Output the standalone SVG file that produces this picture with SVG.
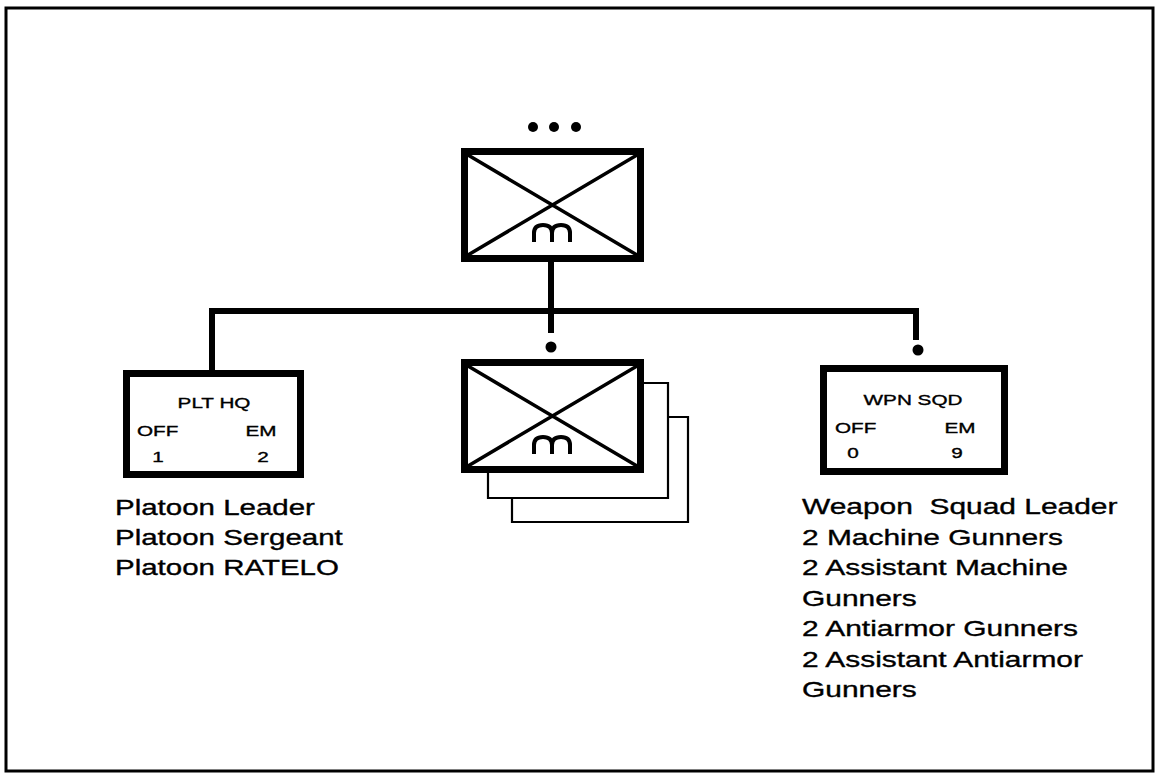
<svg xmlns="http://www.w3.org/2000/svg" width="1156" height="775" viewBox="0 0 1156 775">
<style>
.t{font-family:"Liberation Sans",Arial,sans-serif;fill:#000;stroke:#000;stroke-width:0.35}
.sm{font-size:15px}
.lg{font-size:22px}
.box{fill:#fff;stroke:#000;stroke-width:7}
.x{stroke:#000;stroke-width:3.5;fill:none}
.ab{stroke:#000;stroke-width:4;fill:none;stroke-linecap:butt}
.sh{fill:#fff;stroke:#000;stroke-width:2.2}
.con{stroke:#000;stroke-width:6;fill:none;stroke-linejoin:miter}
</style>
<rect width="1156" height="775" fill="#fff"/>
<rect x="6" y="8" width="1147" height="763" fill="none" stroke="#000" stroke-width="3"/>

<g id="connectors">
  <path class="con" d="M551,262 V333"/>
  <path class="con" d="M212,370 V311 H916 V340"/>
  <circle cx="551" cy="347" r="5.5"/>
  <circle cx="918" cy="350" r="5.5"/>
</g>

<g id="platoon">
  <circle cx="533" cy="127" r="5"/>
  <circle cx="554" cy="127" r="5"/>
  <circle cx="576" cy="127" r="5"/>
  <rect class="box" x="464.5" y="151.5" width="176" height="107"/>
  <path class="x" d="M468,155 L637,255 M637,155 L468,255"/>
  <path class="ab" d="M534,242 V233 Q534,225 543,225 Q552,225 552,233 V242 M552,233 Q552,225 561,225 Q570,225 570,233 V242"/>
</g>

<g id="squads">
  <path class="sh" d="M641,417 H688 V522 H512 V470"/>
  <path class="sh" d="M641,383 H668 V498 H488 V470"/>
  <rect class="box" x="464.5" y="362.5" width="176" height="107"/>
  <path class="x" d="M468,366 L637,466 M637,366 L468,466"/>
  <path class="ab" d="M534,454 V445 Q534,437 543,437 Q552,437 552,445 V454 M552,445 Q552,437 561,437 Q570,437 570,445 V454"/>
</g>

<g id="plt-hq">
  <rect class="box" x="126.5" y="373.5" width="174" height="101"/>
  <text class="t sm" text-anchor="middle" transform="translate(214,408) scale(1.38,1)">PLT HQ</text>
  <text class="t sm" transform="translate(137,436) scale(1.38,1)">OFF</text>
  <text class="t sm" text-anchor="middle" transform="translate(261,436) scale(1.38,1)">EM</text>
  <text class="t sm" text-anchor="middle" transform="translate(158,462) scale(1.38,1)">1</text>
  <text class="t sm" text-anchor="middle" transform="translate(263,462) scale(1.38,1)">2</text>
  <g transform="translate(115,0) scale(1.34,1)">
    <text class="t lg" x="0" y="515">Platoon Leader</text>
    <text class="t lg" x="0" y="545">Platoon Sergeant</text>
    <text class="t lg" x="0" y="575">Platoon RATELO</text>
  </g>
</g>

<g id="wpn-sqd">
  <rect class="box" x="823.5" y="368.5" width="181" height="103"/>
  <text class="t sm" text-anchor="middle" transform="translate(913,405) scale(1.38,1)">WPN SQD</text>
  <text class="t sm" transform="translate(835,433) scale(1.38,1)">OFF</text>
  <text class="t sm" text-anchor="middle" transform="translate(960,433) scale(1.38,1)">EM</text>
  <text class="t sm" text-anchor="middle" transform="translate(853,458) scale(1.38,1)">0</text>
  <text class="t sm" text-anchor="middle" transform="translate(957,458) scale(1.38,1)">9</text>
  <g transform="translate(802,0) scale(1.36,1)">
    <text class="t lg" x="0" y="514" xml:space="preserve">Weapon  Squad Leader</text>
    <text class="t lg" x="0" y="545">2 Machine Gunners</text>
    <text class="t lg" x="0" y="575">2 Assistant Machine</text>
    <text class="t lg" x="0" y="606">Gunners</text>
    <text class="t lg" x="0" y="636">2 Antiarmor Gunners</text>
    <text class="t lg" x="0" y="667">2 Assistant Antiarmor</text>
    <text class="t lg" x="0" y="697">Gunners</text>
  </g>
</g>
</svg>
